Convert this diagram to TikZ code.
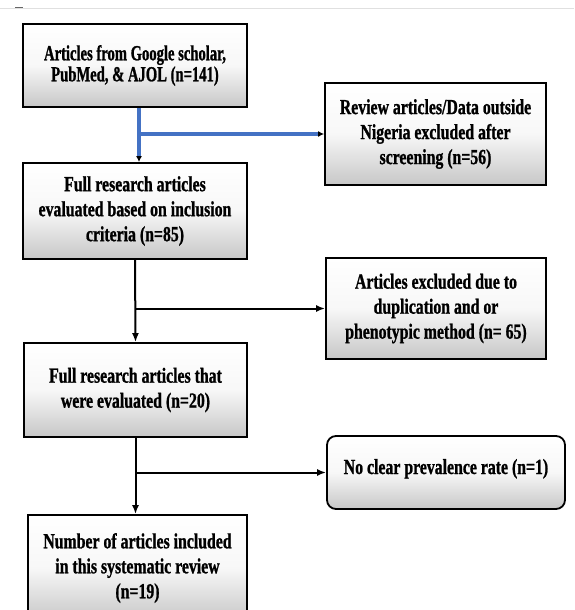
\documentclass[tikz,border=0pt]{standalone}
\usepackage{fontspec}
\setmainfont[FakeStretch=0.735, BoldFeatures={FakeBold=1}]{Liberation Serif}
\newfontfamily\narrowserif[FakeStretch=0.68, BoldFeatures={FakeBold=1}]{Liberation Serif}
\usetikzlibrary{arrows.meta}
\definecolor{linkblue}{RGB}{68,114,196}

\begin{document}
\begin{tikzpicture}[x=1pt, y=-1pt,
    box/.style={draw, line width=1.8pt, top color=white, bottom color=black!22,
      middle color=white!97!black, align=center, inner sep=0pt,
      font=\fontsize{21.5}{25}\selectfont\bfseries},
    link/.style={line width=2pt, -{Latex[length=9pt, width=7pt]}},
    bluelink/.style={draw=linkblue, line width=3.5pt,
      -{Latex[length=6pt, width=6pt, color=black]}}]
      \clip (0,0) rectangle (574,610);
      \fill[white] (0,0) rectangle (574,610);
      \draw[black!12, line width=0.8pt] (0,8) -- (574,8);
      \draw[black!60, line width=1pt] (15,8) -- (23,8);

      \node[box, minimum width=224pt, minimum height=83pt,
        font=\narrowserif\fontsize{21.5}{21}\selectfont\bfseries] (sources) at (135,65.5)
        {Articles from Google scholar,\\PubMed, \& AJOL (n=141)};
      \node[box, minimum width=221pt, minimum height=102pt] (review) at (435.5,134)
        {Review articles/Data outside\\Nigeria excluded after\\screening (n=56)};
      \node[box, minimum width=224pt, minimum height=96pt] (criteria) at (135,211)
        {Full research articles\\evaluated based on inclusion\\criteria (n=85)};
      \node[box, minimum width=220pt, minimum height=101pt] (duplicates) at (436,308.5)
        {Articles excluded due to\\duplication and or\\phenotypic method (n= 65)};
      \node[box, minimum width=223pt, minimum height=94pt] (evaluated) at (135.5,390)
        {Full research articles that\\were evaluated (n=20)};
      \node[box, rounded corners=9pt, minimum width=238pt, minimum height=73pt,
        text height=15pt, text depth=12pt] (noclear) at (446,472.5)
        {No clear prevalence rate (n=1)};
      \node[box, minimum width=219pt, minimum height=106pt] (included) at (137.5,568)
        {Number of articles included\\in this systematic review\\(n=19)};

      % screening step (blue)
      \coordinate (j1) at ([xshift=4pt]sources.south |- review.west);
      \draw[bluelink] ([xshift=4pt]sources.south) -- ([xshift=4pt]criteria.north);
      \draw[bluelink] (j1) -- (review.west);

      % later steps
      \coordinate (j2) at (criteria.south |- duplicates.west);
      \coordinate (j3) at (evaluated.south |- noclear.west);
      \draw[link] (criteria.south) -- (evaluated.north);
      \draw[link] (j2) -- (duplicates.west);
      \draw[link] (evaluated.south) -- (evaluated.south |- included.north);
      \draw[link] (j3) -- (noclear.west);
    \end{tikzpicture}
\end{document}
